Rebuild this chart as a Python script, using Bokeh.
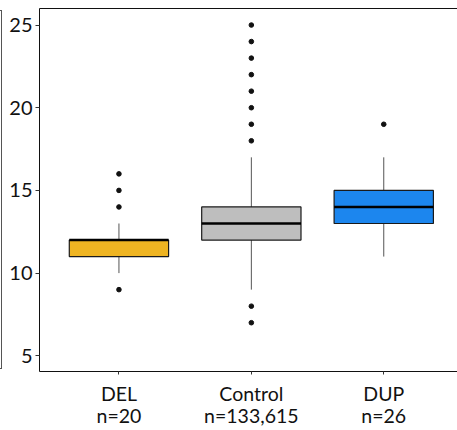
from bokeh.plotting import figure
from bokeh.models import Range1d, FixedTicker, LinearAxis, Div, ColumnDataSource
from bokeh.layouts import row
from bokeh.embed import file_html
from bokeh.resources import INLINE

categories = ["DEL", "Control", "DUP"]
counts = ["n=20", "n=133,615", "n=26"]
q1 = [11, 12, 13]
median = [12, 13, 14]
q3 = [12, 14, 15]
lower = [10, 9, 11]
upper = [13, 17, 17]
outliers = [[16, 15, 14, 9],
            [25, 24, 23, 22, 21, 20, 19, 18, 8, 7],
            [19]]
colors = ["#EEB422", "#BEBEBE", "#1C86EE"]
y_ticks = [5, 10, 15, 20, 25]

xs = [i + 1 for i in range(len(categories))]
box_w = 0.75

p = figure(width=453, height=430, output_backend="svg", toolbar_location=None,
           x_range=Range1d(0.4, 3.557), y_range=Range1d(4.05, 26.0),
           min_border_left=35, min_border_right=0, min_border_top=8, min_border_bottom=59)
p.outline_line_color = None
p.xgrid.visible = False
p.ygrid.visible = False
p.background_fill_color = "white"
p.border_fill_color = "white"

box_src = ColumnDataSource(dict(x=xs, q1=q1, q3=q3, med=median, lo=lower, hi=upper,
                                color=colors,
                                x0=[x - box_w / 2 for x in xs], x1=[x + box_w / 2 for x in xs]))

# whiskers
p.segment(x0="x", x1="x", y0="q3", y1="hi", source=box_src, line_color="#555555", line_width=1)
p.segment(x0="x", x1="x", y0="lo", y1="q1", source=box_src, line_color="#555555", line_width=1)
# boxes
p.vbar(x="x", width=box_w, bottom="q1", top="q3", source=box_src,
       fill_color="color", line_color="#1a1a1a", line_width=1.2)
# medians
p.segment(x0="x0", x1="x1", y0="med", y1="med", source=box_src, line_color="black", line_width=2.5)

# outliers
ox, oy = [], []
for x, outs in zip(xs, outliers):
    for v in outs:
        ox.append(x)
        oy.append(v)
p.scatter(ox, oy, size=4.6, fill_color="#111111", line_color="#111111")

FONT = "Lato"
XFS = "19.5px"
p.xaxis.ticker = FixedTicker(ticks=xs)
p.xaxis.major_label_overrides = {x: c for x, c in zip(xs, categories)}
p.xaxis.major_label_text_font = FONT
p.xaxis.major_label_text_font_size = XFS
p.xaxis.major_label_text_color = "#111111"
p.xaxis.major_tick_out = 3
p.xaxis.major_tick_in = 0
p.xaxis.minor_tick_out = 0
p.xaxis.minor_tick_in = 0
p.xaxis.major_label_standoff = 7
p.xaxis.axis_line_color = "#111111"
p.xaxis.major_tick_line_color = "#333333"

count_axis = LinearAxis(ticker=FixedTicker(ticks=xs),
                        major_label_overrides={x: n for x, n in zip(xs, counts)},
                        major_label_text_font=FONT, major_label_text_font_size=XFS,
                        major_label_text_color="#111111",
                        major_tick_out=0, major_tick_in=0, minor_tick_out=0, minor_tick_in=0,
                        major_label_standoff=-4, axis_line_color=None, major_tick_line_color=None)
p.add_layout(count_axis, "below")

p.yaxis.ticker = FixedTicker(ticks=y_ticks)
p.yaxis.major_label_text_font = FONT
p.yaxis.major_label_text_font_size = "20px"
p.yaxis.major_label_text_color = "#111111"
p.yaxis.major_tick_out = 4
p.yaxis.major_tick_in = 0
p.yaxis.minor_tick_out = 0
p.yaxis.minor_tick_in = 0
p.yaxis.major_label_standoff = 3
p.yaxis.axis_line_color = "#111111"
p.yaxis.major_tick_line_color = "#333333"

top_axis = LinearAxis(ticker=FixedTicker(ticks=[]), major_tick_out=0, major_tick_in=0,
                      minor_tick_out=0, minor_tick_in=0, major_label_text_font_size="0px",
                      axis_line_color="#111111")
p.add_layout(top_axis, "above")

bracket = Div(text='<div style="position:absolute;left:0;top:10px;width:2px;height:359px;'
                   'border:1px solid #555;border-left:none;"></div>',
              width=4, height=430, margin=0)
layout = row(bracket, p, spacing=0)

open("out.html", "w").write(file_html(layout, INLINE))
